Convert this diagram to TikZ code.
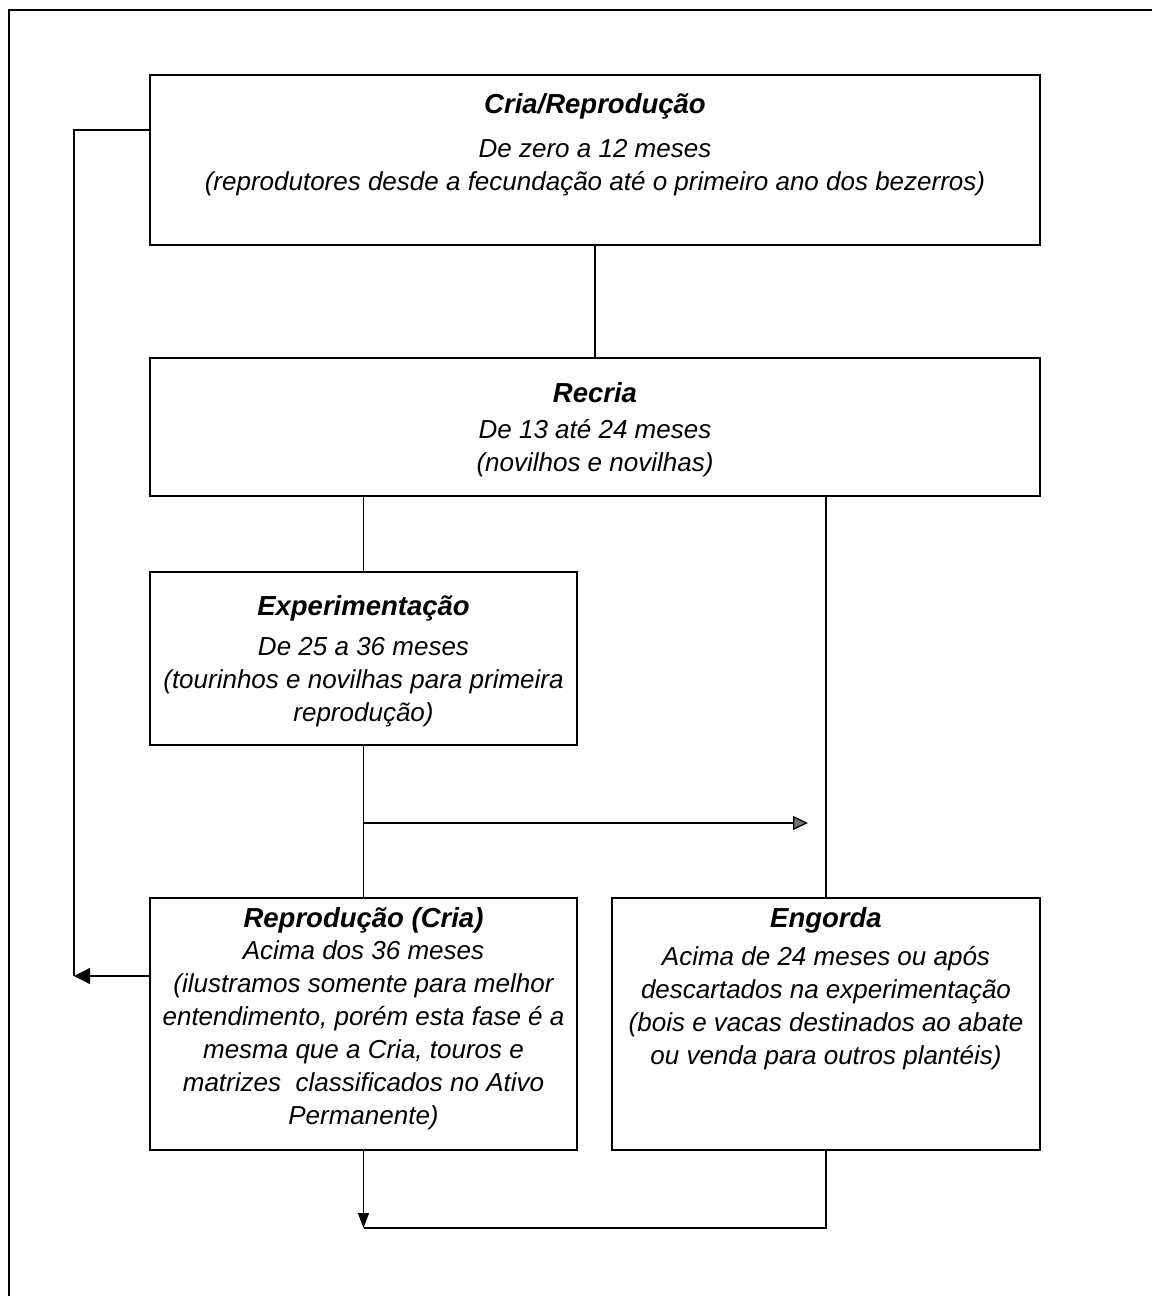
\documentclass[tikz,border=0pt]{standalone}
\usepackage{fontspec}
\setmainfont{Liberation Sans}
\usetikzlibrary{arrows.meta}
\newcommand{\ttl}[1]{{\fontsize{27.5}{33}\selectfont\bfseries #1}}
\begin{document}
\begin{tikzpicture}[x=1pt,y=-1pt,
  stagebox/.style={draw, line width=1.6pt, inner sep=0pt},
  txt/.style={inner sep=0pt, align=center, font=\fontsize{26}{33}\selectfont\itshape},
  conn/.style={line width=1.3pt},
  blackhead/.style={-{Triangle[length=16pt,width=16pt]}},
  downhead/.style={-{Triangle[length=15pt,width=11pt]}},
  grayhead/.style={-{Triangle[length=15pt,width=14pt,fill=black!55]}}]
\useasboundingbox (0,0) rectangle (1152,1296);
% outer frame (top and left edges only visible)
\draw[line width=2pt] (1152,10) -- (9,10) -- (9,1296);

% boxes
\node[stagebox, minimum width=890pt, minimum height=170pt] (b1) at (595,160) {};
\node[stagebox, minimum width=890pt, minimum height=138pt] (b2) at (595,427) {};
\node[stagebox, minimum width=427pt, minimum height=173pt] (b3) at (363.5,658.5) {};
\node[stagebox, minimum width=427pt, minimum height=252pt] (b4) at (363.5,1024) {};
\node[stagebox, minimum width=428pt, minimum height=252pt] (b5) at (826,1024) {};

% texts
\node[txt, anchor=north, yshift=-19pt] (t1) at (b1.north)
  {\ttl{Cria/Reprodução}\\[11pt]De zero a 12 meses\\(reprodutores desde a fecundação até o primeiro ano dos bezerros)};
\node[txt, anchor=north, yshift=-25pt] (t2) at (b2.north)
  {\ttl{Recria}\\[3pt]De 13 até 24 meses\\(novilhos e novilhas)};
\node[txt, anchor=north, yshift=-24pt] (t3) at (b3.north)
  {\ttl{Experimentação}\\[7pt]De 25 a 36 meses\\(tourinhos e novilhas para primeira\\reprodução)};
\node[txt, anchor=north, yshift=-10pt] (t4) at (b4.north)
  {\ttl{Reprodução (Cria)}\\[-1pt]Acima dos 36 meses\\(ilustramos somente para melhor\\entendimento, porém esta fase é a\\mesma que a Cria, touros e\\matrizes\ \ classificados no Ativo\\Permanente)};
\node[txt, anchor=north, yshift=-10pt] (t5) at (b5.north)
  {\ttl{Engorda}\\[5pt]Acima de 24 meses ou após\\descartados na experimentação\\(bois e vacas destinados ao abate\\ou venda para outros plantéis)};

% coordinates for connector ends
\coordinate (l1) at (b1.west |- 0,130);
\coordinate (lc1) at (74,130);
\coordinate (lc2) at (74,976);
\coordinate (l4) at (b4.west |- 0,976);
\coordinate (mid) at (b3.south |- 0,823);
\coordinate (midend) at (808,823);
\coordinate (bot) at (b4.south |- 0,1228);

% connectors
\draw[conn] (b1.south) -- (b2.north);
\draw[conn] (b3.north) -- (b3.north |- b2.south);
\draw[conn] (b3.south) -- (b4.north);
\draw[conn] (b5.north) -- (b5.north |- b2.south);
\draw[conn, grayhead] (mid) -- (midend);
\draw[conn] (l1) -- (lc1) -- (lc2);
\draw[conn, blackhead] (l4) -- (lc2);
\draw[conn] (b5.south) |- (bot);
\draw[conn, downhead] (b4.south) -- (bot);
\end{tikzpicture}
\end{document}
